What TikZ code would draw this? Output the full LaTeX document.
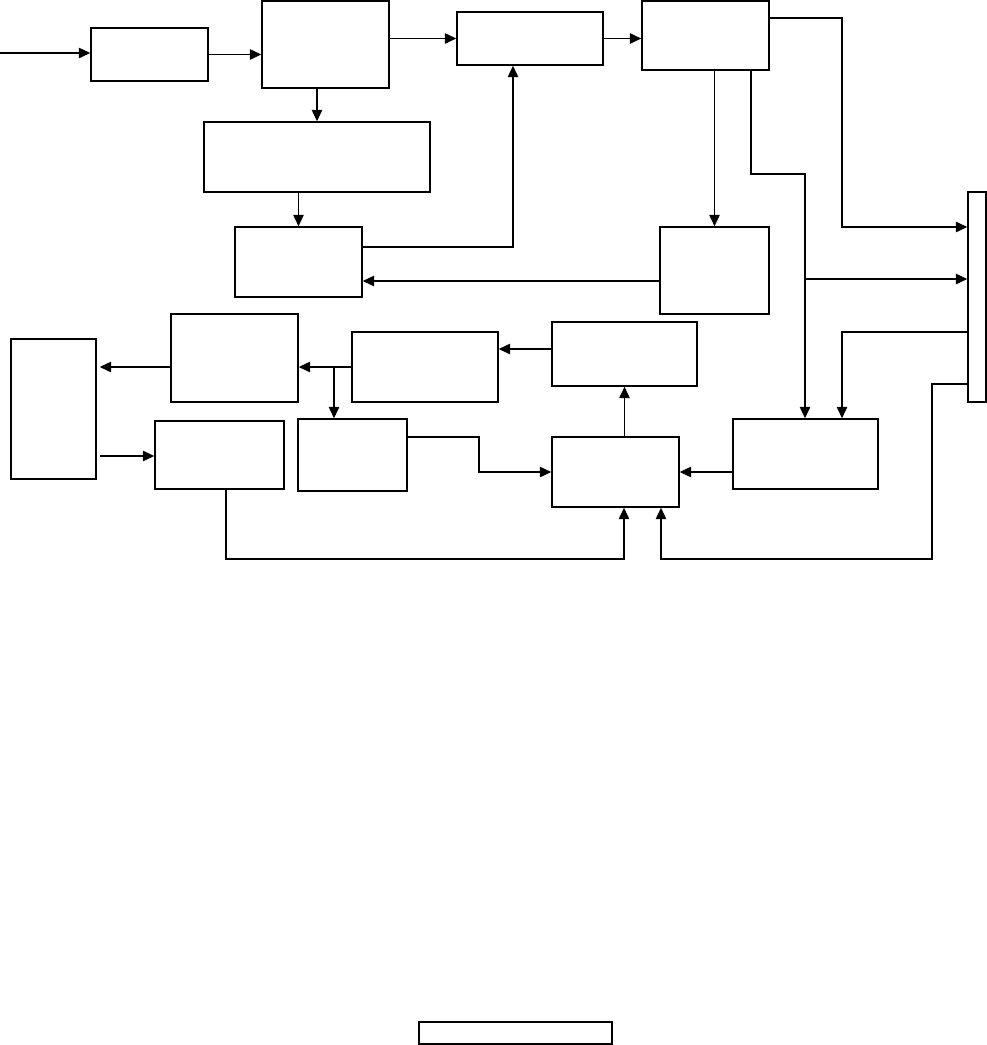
\documentclass[tikz,border=0pt]{standalone}
\usetikzlibrary{arrows.meta,fit}
\tikzset{
  blk/.style={draw, line width=0.9pt, inner sep=0pt},
  wire/.style={line width=0.7pt},
  arr/.style={wire, -{Triangle[length=6.5pt,width=6pt]}},
}
\begin{document}
\begin{tikzpicture}[x=0.02cm,y=-0.02cm]
    \useasboundingbox (0,0) rectangle (987,1045);

    % Boxes
    \node[blk, fit={(91,28) (208,81)}] (inbox) {};
    \node[blk, fit={(262,1) (389,88)}] (split) {};
    \node[blk, fit={(204,122) (430,192)}] (wide) {};
    \node[blk, fit={(235,227) (362,297)}] (ctrl) {};
    \node[blk, fit={(457,12) (603,65)}] (enc) {};
    \node[blk, fit={(642,1) (769,70)}] (hub) {};
    \node[blk, fit={(968,192) (986,402)}] (bus) {};
    \node[blk, fit={(660,227) (769,314)}] (fb) {};
    \node[blk, fit={(11,339) (96,479)}] (dev) {};
    \node[blk, fit={(171,314) (298,402)}] (outbox) {};
    \node[blk, fit={(352,332) (498,402)}] (conv) {};
    \node[blk, fit={(552,322) (697,386)}] (proc) {};
    \node[blk, fit={(155,421) (284,489)}] (drv) {};
    \node[blk, fit={(298,419) (407,491)}] (tap) {};
    \node[blk, fit={(552,437) (679,507)}] (core) {};
    \node[blk, fit={(733,419) (878,489)}] (sel) {};
    \node[blk, fit={(419,1022) (612,1044)}] (caption) {};

    % Top row
    \coordinate (src) at (0,53);
    \draw[arr] (src) -- (src -| inbox.west);
    \draw[arr] (inbox.east) -- (inbox.east -| split.west);
    \draw[arr] (split.east |- enc.west) -- (enc.west);
    \draw[arr] (enc.east) -- (enc.east -| hub.west);
    \draw[arr] (split.south -| wide.north) -- (wide.north);
    \draw[arr] (wide.south -| ctrl.north) -- (ctrl.north);
    \draw[arr] (ctrl.east |- 0,247) -| (513,0 |- enc.south);
    \draw[arr] (fb.west |- 0,281) -- (ctrl.east |- 0,281);
    \draw[arr] (hub.south -| fb.north) -- (fb.north);

    % Bus lanes
    \draw[arr] (hub.east |- 0,18) -| (842,227) -- (bus.west |- 0,227);
    \draw[arr] (hub.south -| 751,0) |- (805,174) -- (805,0 |- sel.north);
    \draw[arr] (805,279) -- (bus.west |- 0,279);
    \draw[arr] (bus.west |- 0,332) -| (842,0 |- sel.north);
    \draw[arr] (bus.west |- 0,384) -| (932,559) -| (661,0 |- core.south);

    % Lower loop
    \draw[arr] (drv.south -| 226,0) |- (624,559) -- (624,0 |- core.south);
    \draw[arr] (core.north -| proc.south) -- (proc.south);
    \draw[arr] (sel.west |- core.east) -- (core.east);
    \draw[arr] (proc.west |- 0,349) -- (conv.east |- 0,349);
    \draw[arr] (conv.west) -- (conv.west -| outbox.east);
    \draw[arr] (334,0 |- conv.west) -- (334,0 |- tap.north);
    \draw[arr, shorten >=1.7pt] (outbox.west |- 0,367) -- (dev.east |- 0,367);
    \draw[arr, shorten <=1.7pt] (dev.east |- 0,456) -- (drv.west |- 0,456);
    \draw[arr] (tap.east |- 0,437) -| (479,472) -- (core.west);
\end{tikzpicture}
\end{document}
